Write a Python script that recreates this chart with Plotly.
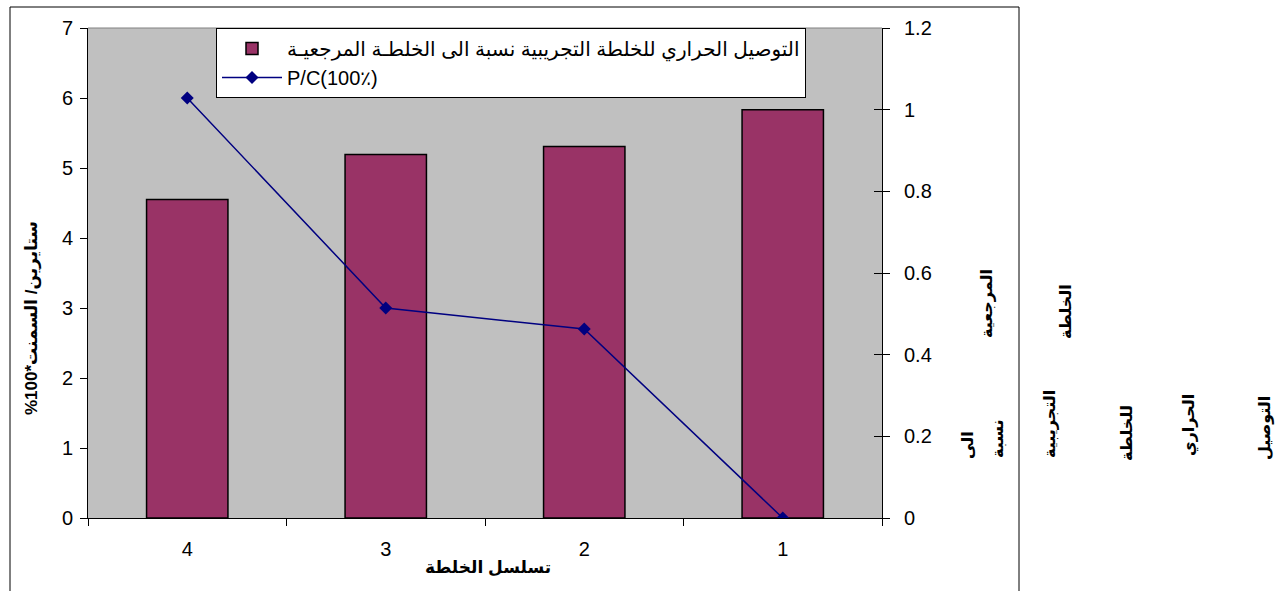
import plotly.graph_objects as go

# Mix sequence (as ordered along the category axis)
mixes = ["4", "3", "2", "1"]
# Thermal conductivity of each trial mix relative to the reference mix (right axis)
conductivity_ratio = [0.78, 0.89, 0.91, 1.0]
# Polystyrene / cement ratio in percent (left axis)
pc_percent = [6.0, 3.0, 2.7, 0.0]

left_ticks = [0, 1, 2, 3, 4, 5, 6, 7]
right_ticks = [0, 0.2, 0.4, 0.6, 0.8, 1, 1.2]

bar_name = "التوصيل الحراري للخلطة التجريبية نسبة الى الخلطـة المرجعيـة"
line_name = "P/C(100٪)"
y_left_title = "%100*ستايرين/ السمنت"
x_title = "تسلسل الخلطة"

# Words of the secondary-axis caption, scattered to the right of the frame
right_caption_words = ["المرجعية", "الخلطة", "الى", "نسبة", "التجريبية", "للخلطة", "الحراري", "التوصيل"]
right_caption_pos = [(987, 304), (1065, 312), (967, 445), (998, 438), (1050, 424),
                     (1126, 433), (1189, 425), (1265, 428)]

W, H = 1276, 591
L, R, T, B = 88, 882, 28, 518
FONT = "Liberation Sans, Arial, DejaVu Sans, sans-serif"


def px(x):
    return (x - L) / (R - L)


def py(y):
    return (B - y) / (B - T)


fig = go.Figure()

fig.add_trace(go.Bar(
    x=mixes, y=conductivity_ratio, name=bar_name, yaxis="y",
    marker=dict(color="#993366", line=dict(color="black", width=1.5)),
    hoverinfo="skip",
))

fig.add_trace(go.Scatter(
    x=mixes, y=pc_percent, name=line_name, yaxis="y2",
    mode="lines+markers",
    line=dict(color="#000080", width=1.5),
    marker=dict(symbol="diamond", size=10, color="#000080"),
    hoverinfo="skip",
))

# Carrier for the inward half of the crossing ticks on the right axis
fig.add_trace(go.Scatter(
    x=mixes, y=conductivity_ratio, yaxis="y3", mode="lines",
    opacity=0, showlegend=False, hoverinfo="skip",
))

annotations = [
    dict(text=f"<b>{y_left_title}</b>", x=px(32), y=py(318), xref="paper", yref="paper",
         textangle=-90, showarrow=False, font=dict(size=17, color="black", family=FONT),
         xanchor="center", yanchor="middle"),
    dict(text=f"<b>{x_title}</b>", x=px(488), y=py(567), xref="paper", yref="paper",
         showarrow=False, font=dict(size=17, color="black", family=FONT),
         xanchor="center", yanchor="middle"),
]
for word, (wx, wy) in zip(right_caption_words, right_caption_pos):
    annotations.append(dict(
        text=f"<b>{word}</b>", x=px(wx), y=py(wy), xref="paper", yref="paper",
        textangle=-90, showarrow=False, font=dict(size=16, color="black", family=FONT),
        xanchor="center", yanchor="middle"))

fig.update_layout(
    width=W, height=H,
    margin=dict(l=L, r=W - R, t=T, b=H - B, pad=0),
    paper_bgcolor="white", plot_bgcolor="#C0C0C0",
    font=dict(family=FONT, color="black", size=20),
    bargap=0.59,
    showlegend=True,
    legend=dict(
        x=px(216), y=1.0, xanchor="left", yanchor="top",
        bgcolor="white", bordercolor="black", borderwidth=1,
        font=dict(size=20, family=FONT, color="black"),
        tracegroupgap=0, itemwidth=60,
    ),
    xaxis=dict(
        type="category", categoryorder="array", categoryarray=mixes,
        showline=True, linecolor="black", linewidth=1,
        ticks="outside", ticklen=7, tickcolor="black", tickson="boundaries",
        ticklabelstandoff=13, showgrid=False, zeroline=False,
        tickfont=dict(size=20),
    ),
    yaxis=dict(
        side="right", range=[0, 1.2], tickvals=right_ticks,
        showline=True, linecolor="black", linewidth=1,
        ticks="outside", ticklen=7, tickcolor="black",
        ticklabelstandoff=10, showgrid=False, zeroline=False,
        tickfont=dict(size=20),
    ),
    yaxis2=dict(
        overlaying="y", side="left", range=[0, 7], tickvals=left_ticks,
        showline=True, linecolor="black", linewidth=1,
        ticks="outside", ticklen=7, tickcolor="black",
        ticklabelstandoff=3, showgrid=False, zeroline=False,
        tickfont=dict(size=20),
    ),
    yaxis3=dict(
        overlaying="y", side="right", range=[0, 1.2], tickvals=right_ticks,
        showline=False, ticks="inside", ticklen=8, tickcolor="black",
        showticklabels=False, showgrid=False, zeroline=False,
    ),
    annotations=annotations,
    shapes=[
        # grey top edge of the plot area
        dict(type="line", xref="paper", yref="paper", x0=0, x1=1, y0=1, y1=1,
             line=dict(color="#808080", width=1)),
        # outer chart frame
        dict(type="rect", xref="paper", yref="paper",
             x0=px(10), x1=px(1019), y0=py(7), y1=py(640),
             line=dict(color="black", width=1), fillcolor="rgba(0,0,0,0)"),
    ],
)

fig.write_html("out.html")
